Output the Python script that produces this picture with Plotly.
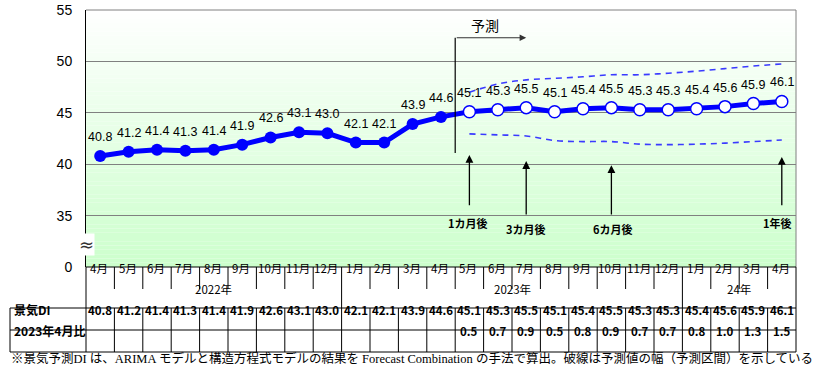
import plotly.graph_objects as go

# ---------------- data ----------------
month_labels = ["4月", "5月", "6月", "7月", "8月", "9月", "10月", "11月", "12月",
                "1月", "2月", "3月", "4月", "5月", "6月", "7月", "8月", "9月", "10月", "11月", "12月",
                "1月", "2月", "3月", "4月"]
year_labels = ["2022年", "2023年", "24年"]
year_spans = [(0, 8), (9, 20), (21, 24)]

actual_di = [40.8, 41.2, 41.4, 41.3, 41.4, 41.9, 42.6, 43.1, 43.0, 42.1, 42.1, 43.9, 44.6]
forecast_di = [45.1, 45.3, 45.5, 45.1, 45.4, 45.5, 45.3, 45.3, 45.4, 45.6, 45.9, 46.1]
upper_band = [47.0, 47.8, 48.2, 48.35, 48.5, 48.7, 48.7, 48.85, 49.05, 49.3, 49.55, 49.75]
lower_band = [42.95, 42.85, 42.75, 42.3, 42.2, 42.2, 41.95, 41.9, 41.95, 42.05, 42.2, 42.35]
vs_apr2023 = ["", "", "", "", "", "", "", "", "", "", "", "", "",
              "0.5", "0.7", "0.9", "0.5", "0.8", "0.9", "0.7", "0.7", "0.8", "1.0", "1.3", "1.5"]

y_tickvals = [30, 35, 40, 45, 50, 55]
y_ticktext = ["0", "35", "40", "45", "50", "55"]

horizon_labels = ["1カ月後", "3カ月後", "6カ月後", "1年後"]
horizon_idx = [13, 15, 18, 24]

row_headers = ["景気DI", "2023年4月比"]
note = ("※景気予測DI は、ARIMA モデルと構造方程式モデルの結果を Forecast Combination の手法で算出。"
        "破線は予測値の幅（予測区間）を示している")

# ---------------- figure ----------------
n = len(month_labels)
all_di = actual_di + forecast_di
x_all = list(range(n))
x_act = x_all[:len(actual_di)]
x_fc = x_all[len(actual_di):]

BLUE = "#0000ff"
JP = "Noto Sans CJK JP"
LAT = "Liberation Sans"

fig = go.Figure()

fig.add_trace(go.Scatter(x=x_fc, y=upper_band, mode="lines",
                         line=dict(color="#3a3aff", width=1.6, dash="6px,5px", shape="spline"),
                         hoverinfo="skip", showlegend=False))
fig.add_trace(go.Scatter(x=x_fc, y=lower_band, mode="lines",
                         line=dict(color="#3a3aff", width=1.6, dash="6px,5px", shape="spline"),
                         hoverinfo="skip", showlegend=False))
fig.add_trace(go.Scatter(x=x_all, y=all_di, mode="lines",
                         line=dict(color=BLUE, width=5), showlegend=False))
fig.add_trace(go.Scatter(x=x_act, y=actual_di, mode="markers",
                         marker=dict(color=BLUE, size=12, line=dict(width=0)), showlegend=False))
fig.add_trace(go.Scatter(x=x_fc, y=forecast_di, mode="markers",
                         marker=dict(color="white", size=12, line=dict(color=BLUE, width=1.5)),
                         showlegend=False))

shapes = []
# gradient background (white top -> light green bottom)
nb = 60
for i in range(nb):
    t = (i + 0.5) / nb  # 0 bottom -> 1 top
    r = int(round(204 + (255 - 204) * t))
    col = f"rgb({r},255,{r})"
    shapes.append(dict(type="rect", xref="paper", yref="paper", x0=0, x1=1,
                       y0=i / nb, y1=(i + 1) / nb, fillcolor=col, line=dict(width=0), layer="below"))

# forecast start line
shapes.append(dict(type="line", xref="x", yref="y", x0=12.5, x1=12.5, y0=41.1, y1=52.3,
                   line=dict(color="black", width=1.2)))
# right border of plot (gray)
shapes.append(dict(type="line", xref="paper", yref="paper", x0=1, x1=1, y0=0, y1=1,
                   line=dict(color="#808080", width=1)))
# top border (gray)
shapes.append(dict(type="line", xref="paper", yref="paper", x0=0, x1=1, y0=1, y1=1,
                   line=dict(color="#808080", width=1)))

# ---------------- table below ----------------
H = 257.0
def py(Y):
    return (267.0 - Y) / H

y_month_bot = py(289)
y_year_bot = py(308)
y_mid = py(330)
y_bot = py(352)
x_left = (10 - 86) / 710.0
K = "black"

shapes.append(dict(type="line", xref="paper", yref="paper", x0=0, x1=1, y0=0, y1=0,
                   line=dict(color=K, width=1)))
for b in range(n + 1):
    xp = b / n
    if b in (0, n):
        y1 = y_bot
    elif b in (9, 21):
        y1 = y_year_bot
    else:
        y1 = y_month_bot
    shapes.append(dict(type="line", xref="paper", yref="paper", x0=xp, x1=xp, y0=0, y1=y1,
                       line=dict(color=K, width=1)))
    if 0 < b < n:
        shapes.append(dict(type="line", xref="paper", yref="paper", x0=xp, x1=xp,
                           y0=y_year_bot, y1=y_bot, line=dict(color=K, width=1)))
for yy in (y_year_bot, y_mid, y_bot):
    shapes.append(dict(type="line", xref="paper", yref="paper", x0=x_left, x1=1, y0=yy, y1=yy,
                       line=dict(color=K, width=1)))
shapes.append(dict(type="line", xref="paper", yref="paper", x0=x_left, x1=x_left,
                   y0=y_year_bot, y1=y_bot, line=dict(color=K, width=1)))

annotations = []
# data labels
for xi, v in zip(x_all, all_di):
    annotations.append(dict(x=xi, y=v, xref="x", yref="y", text=f"{v:.1f}", showarrow=False,
                            yshift=19, font=dict(family=LAT, size=12.5, color="black")))

# 予測 arrow
annotations.append(dict(x=15, y=52.3, xref="x", yref="y", ax=12.5, ay=52.3, axref="x", ayref="y",
                        text="", showarrow=True, arrowhead=2, arrowsize=1.2, arrowwidth=1.1,
                        arrowcolor="#333333"))
annotations.append(dict(x=13.55, y=53.55, xref="x", yref="y", text="予測", showarrow=False,
                        font=dict(family=JP, size=14, color="black")))

# horizon arrows
tips = [40.9, 40.3, 39.9, 40.7]
tails = [35.85, 34.95, 34.95, 35.85]
lab_y = [34.28, 33.7, 33.7, 34.28]
lab_x = [12.95, 15.0, 18.05, 23.85]
for lbl, xi, tp, tl, ly, lx in zip(horizon_labels, horizon_idx, tips, tails, lab_y, lab_x):
    annotations.append(dict(x=xi, y=tp, xref="x", yref="y", ax=xi, ay=tl, axref="x", ayref="y",
                            text="", showarrow=True, arrowhead=2, arrowsize=1.2, arrowwidth=1.3,
                            arrowcolor="black"))
    annotations.append(dict(x=lx, y=ly, xref="x", yref="y", text=f"<b>{lbl}</b>", showarrow=False,
                            font=dict(family=JP, size=11, color="black")))

# axis break mark
annotations.append(dict(x=0, y=32.15, xref="paper", yref="y", text="≈", showarrow=False,
                        bgcolor="white", borderpad=0, xanchor="center",
                        font=dict(family="DejaVu Sans", size=18, color="#333333")))

# month / year labels
for i, m in enumerate(month_labels):
    annotations.append(dict(x=i, y=py(278), xref="x", yref="paper", text=m, showarrow=False,
                            xshift=-1, font=dict(family=JP, size=11.5, color="black")))
for yl, (a, b) in zip(year_labels, year_spans):
    annotations.append(dict(x=(a + b) / 2, y=py(298.5), xref="x", yref="paper", text=yl,
                            showarrow=False, font=dict(family=JP, size=11.5, color="black")))

# table rows
for i, v in enumerate(all_di):
    annotations.append(dict(x=i, y=py(319.5), xref="x", yref="paper", text=f"<b>{v:.1f}</b>",
                            showarrow=False, font=dict(family=JP, size=11.5, color="black")))
for i, v in enumerate(vs_apr2023):
    if v:
        annotations.append(dict(x=i, y=py(341), xref="x", yref="paper", text=f"<b>{v}</b>",
                                showarrow=False, font=dict(family=JP, size=11.5, color="black")))
for txt, Y in zip(row_headers, (319.5, 341)):
    annotations.append(dict(x=(12 - 86) / 710.0, y=py(Y), xref="paper", yref="paper",
                            text=f"<b>{txt}</b>", showarrow=False, xanchor="left",
                            font=dict(family=JP, size=12, color="black")))

annotations.append(dict(x=(9 - 86) / 710.0, y=py(368), xref="paper", yref="paper", text=note,
                        showarrow=False, xanchor="left",
                        font=dict(family="Liberation Serif, Noto Sans CJK JP", size=12.5, color="black")))

fig.update_layout(
    width=832, height=382,
    margin=dict(l=86, r=36, t=10, b=115, autoexpand=False),
    paper_bgcolor="white",
    plot_bgcolor="rgba(0,0,0,0)",
    showlegend=False,
    shapes=shapes,
    annotations=annotations,
    xaxis=dict(range=[-0.5, n - 0.5], showticklabels=False, showgrid=False, zeroline=False,
               showline=False, ticks=""),
    yaxis=dict(range=[30, 55], tickvals=y_tickvals, ticktext=y_ticktext, showgrid=True,
               gridcolor="#808080", gridwidth=1, zeroline=False, showline=True,
               linecolor="black", linewidth=1, ticks="", ticklabelstandoff=10,
               tickfont=dict(family=LAT, size=14, color="black")),
)

# remove the browser's default 8px body margin so the figure sits at (0, 0)
fig.write_html("out.html", config={"displayModeBar": False},
               post_script="document.body.style.margin='0';document.body.style.overflow='hidden';")
